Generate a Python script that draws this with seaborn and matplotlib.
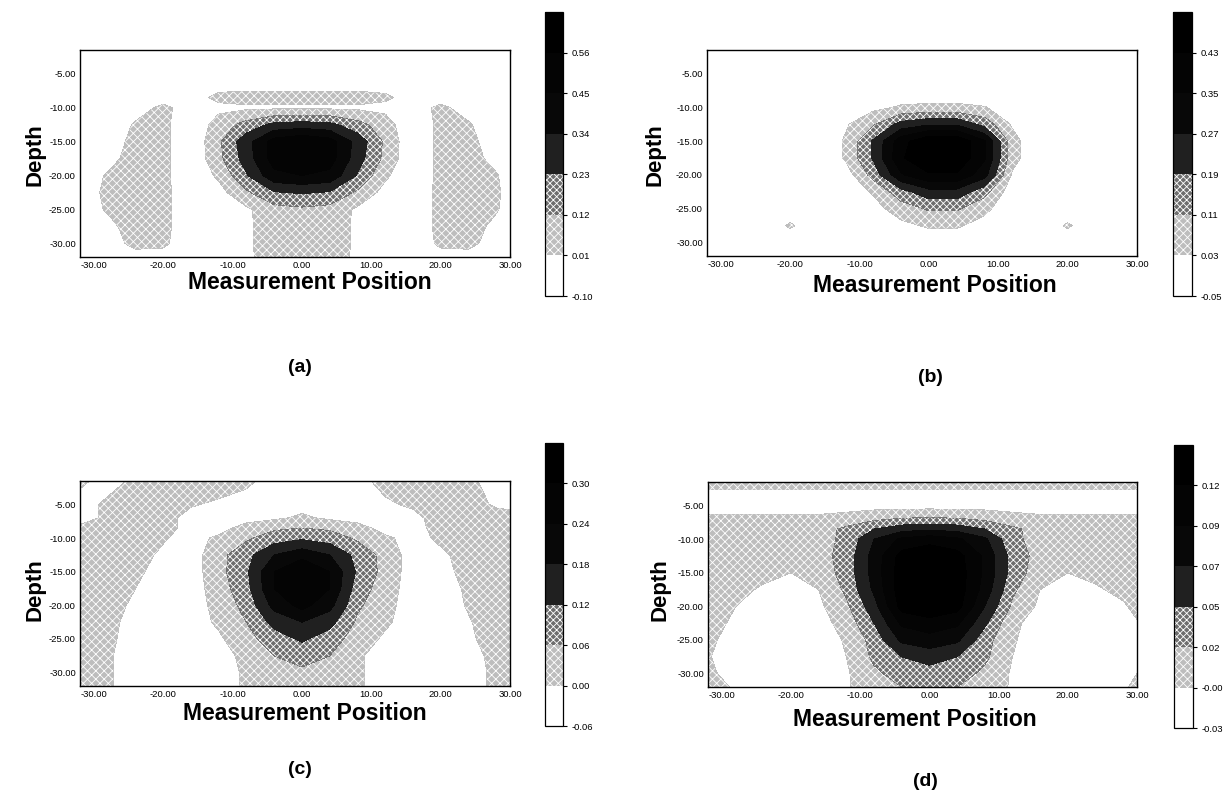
import matplotlib
matplotlib.use("Agg")
import matplotlib.pyplot as plt
import seaborn as sns
import numpy as np

# grid positions (measurement position, depth)
xs = [-32, -28, -24, -20, -16, -12, -8, -4, 0, 4, 8, 12, 16, 20, 24, 28, 30]
depths = [-1.5, -5, -7, -8.5, -10, -12.5, -15, -17.5, -20, -22.5, -25, -27.5, -30, -32]

# values, in hundredths
vals_a = [
    [-3, -3, -3, -3, -3, -3, -3, -3, -3, -3, -3, -3, -3, -3, -3, -3, -3],
    [-3, -3, -3, -3, -3, -3, -3, -3, -3, -3, -3, -3, -3, -3, -3, -3, -3],
    [-3, -3, -3, -3, -3, -2, -2, -2, -2, -2, -2, -2, -3, -3, -3, -3, -3],
    [-3, -3, -3, -3, -4, 4, 6, 6, 6, 6, 6, 3, -4, -3, -3, -3, -3],
    [-3, -3, -3, 3, -3, -2, -1, -1, -1, -1, -1, -2, -3, 3, -3, -3, -3],
    [-4, -5, 2, 4, -8, 6, 16, 26, 28, 26, 16, 6, -8, 4, 2, -5, -4],
    [-4, -6, 5, 4, -8, 10, 30, 50, 55, 50, 30, 10, -8, 4, 5, -6, -4],
    [-4, -3, 6, 4, -8, 9, 28, 50, 55, 50, 28, 9, -8, 4, 6, -3, -4],
    [-5, 2, 7, 4, -8, 3, 22, 42, 45, 42, 22, 3, -8, 4, 7, 2, -4],
    [-4, 3, 7, 4, -6, -3, 10, 22, 24, 22, 10, -3, -6, 4, 7, 3, -3],
    [-4, 2, 6, 4, -6, -5, -1, 8, 10, 8, -1, -5, -6, 4, 6, 2, -3],
    [-5, -2, 6, 4, -6, -5, -1, 7, 7, 7, -1, -5, -6, 4, 6, -2, -4],
    [-5, -4, 4, 3, -6, -5, -1, 7, 7, 7, -1, -5, -6, 3, 4, -4, -5],
    [-5, -5, -3, -3, -6, -5, -1, 6, 6, 6, -1, -5, -6, -3, -3, -5, -5],
]
vals_b = [
    [-2, -2, -2, -2, -2, -2, -2, -2, -2, -2, -2, -2, -2, -2, -2, -2, -2],
    [-2, -2, -2, -2, -2, -2, -2, -2, -2, -2, -2, -2, -2, -2, -2, -2, -2],
    [-2, -2, -2, -2, -2, -2, -2, -2, -2, -2, -2, -2, -2, -2, -2, -2, -2],
    [-2, -2, -2, -2, -2, -2, -1, 0, 0, 0, -1, -2, -2, -2, -2, -2, -2],
    [-2, -2, -2, -2, -2, -2, 1, 4, 5, 5, 3.5, -2, -2, -2, -2, -2, -2],
    [-2, -2, -2, -2, -2, 2, 10, 22, 26, 26, 16, 2, -2, -2, -2, -2, -2],
    [-2, -2, -2, -2, -4, 4, 20, 40, 50, 50, 36, 6, -4, -2, -2, -2, -2],
    [-2, -2, -2, -2, -4, 4, 20, 42, 50, 50, 36, 6, -4, -2, -2, -2, -2],
    [-2, -2, -2, -2, -4, -1, 14, 34, 42, 42, 30, 2, -4, -2, -2, -2, -2],
    [-2, -2, -2, -2, -3, -3, 4, 16, 24, 24, 14, -2, -3, -2, -2, -2, -2],
    [-2, -2, -2, -2, -2, -3, 0, 7, 12, 12, 5, -3, -2, -2, -2, -2, -2],
    [-2, -2, -2, 4, -2, -2, -2, 1, 4, 4, 0, -2, -2, 4, -2, -2, -2],
    [-2, -2, -2, -2, -2, -2, -2, -2, -2, -2, -2, -2, -2, -2, -2, -2, -2],
    [-2, -2, -2, -2, -2, -2, -2, -2, -2, -2, -2, -2, -2, -2, -2, -2, -2],
]
vals_c = [
    [1, -2, 1, 3, 3, 3, 1, -2, -2, -2, -2, 2, 3, 3, 1, -2, -2],
    [-2, 1, 3, 2, 0.5, -1, -2, -2, -2, -2, -2, -1, 1, 3, 3, -1, -2],
    [-2, 1, 2, 2, -2, -2, -2, -1, 1, -1, -2, -2, -2, 3, 3, 3, 3],
    [1, 3, 3, 2, -2, -2, 2, 5, 6, 5, 2, -2, -2, 2, 3, 3, 3],
    [3, 3, 3, 0.5, -2, 1, 5, 9, 11, 9, 5, 1, -2, 1, 3, 3, 3],
    [3, 3, 2, -1, -3, 4, 10, 18, 22, 18, 10, 4, -3, -1, 2, 3, 3],
    [3, 3, 1, -2, -3, 4, 11, 24, 30, 24, 11, 4, -3, -2, 2, 3, 3],
    [3, 3, 0, -2, -3, 3, 10, 24, 30, 24, 9, 3, -3, -3, 1, 3, 3],
    [3, 2, -1, -3, -3, 2, 8, 20, 26, 20, 7, 2, -3, -3, 0.5, 3, 3],
    [3, 1.5, -2, -3, -3, 1, 6, 14, 18, 14, 5, 1, -3, -3, -0.5, 3, 3],
    [3, 1, -2, -3, -3, -1, 4, 9, 13, 9, 3, -1, -3, -3, -1, 2.5, 3],
    [3, 0.5, -2, -3, -3, -3, 2, 6, 8, 6, 1, -3, -3, -3, -2, 1.5, 3],
    [3, 0.5, -2, -3, -3, -3, 1, 4, 5, 4, 1, -3, -3, -3, -2, 1, 3],
    [3, 0.5, -2, -3, -3, -3, 1, 3, 4, 3, 1, -3, -3, -3, -2, 1, 2],
]
vals_d = [
    [0, 0, 0, 0, 0, 0, 0, 0, 0, 0, 0, 0, 0, 0, 0, 0, 0],
    [-1.5, -1.5, -1.5, -1.5, -1.5, -1.5, -1.5, -1.5, -1.5, -1.5, -1.5, -1.5, -1.5, -1.5, -1.5, -1.5, -1.5],
    [0, 0, 0, 0, 0, 0.5, 1.5, 2.2, 2.4, 2.2, 1.5, 0.5, 0, 0, 0, 0, 0],
    [1, 1, 1, 1, 1, 2.5, 4.5, 6, 6.5, 6, 4.5, 2.5, 1, 1, 1, 1, 1],
    [1.2, 1.2, 1.2, 1.2, 1.2, 2.5, 7, 10, 11, 10, 7.5, 2.5, 1.2, 1.2, 1.2, 1.2, 1.2],
    [1, 1, 1, 1, 1, 3, 8, 13, 14, 13, 9, 3.5, 1, 1, 1, 1, 1],
    [1, 1, 0.5, -0.5, 0.5, 3, 8, 13.5, 14, 13.5, 9, 3.5, 0.5, -0.5, 0.5, 1, 1],
    [1, 0.5, -1, -1.5, -0.5, 2.5, 7.5, 13.5, 14, 13.5, 8.5, 2.5, -0.5, -1.5, -1, 0.5, 1],
    [0.8, -0.5, -2, -2, -1, 1.5, 6, 13, 14, 13, 7, 1.5, -1, -2, -2, -1, 0.5],
    [0.5, -1, -2, -2, -1.5, 0.5, 4.5, 10, 11, 10, 5, 0, -1.5, -2, -2, -1.5, -0.8],
    [0, -1.5, -2, -2, -1.5, -0.3, 3, 7.5, 8.5, 7.5, 3, -0.3, -1.5, -2, -2, -1.5, -1],
    [-0.3, -2, -2, -2, -2, -0.5, 2.5, 4.5, 5.5, 4.5, 2.5, -0.5, -2, -2, -2, -2, -1.5],
    [0, -1.5, -2, -2, -2, -0.8, 1.5, 3, 3.5, 3, 1.5, -0.8, -2, -2, -2, -1.5, -0.5],
    [0.5, -0.8, -2, -2, -2, -0.8, 1, 2, 2.5, 2, 1, -0.8, -2, -2, -2, -1, 0.3],
]

# colour-bar levels and their labels
levels_a = [-0.10, 0.01, 0.12, 0.23, 0.34, 0.45, 0.56, 0.67]
labels_a = ["-0.10", "0.01", "0.12", "0.23", "0.34", "0.45", "0.56"]
levels_b = [-0.05, 0.03, 0.11, 0.19, 0.27, 0.35, 0.43, 0.51]
labels_b = ["-0.05", "0.03", "0.11", "0.19", "0.27", "0.35", "0.43"]
levels_c = [-0.06, 0.00, 0.06, 0.12, 0.18, 0.24, 0.30, 0.36]
labels_c = ["-0.06", "0.00", "0.06", "0.12", "0.18", "0.24", "0.30"]
levels_d = [-0.03, -0.005, 0.02, 0.045, 0.07, 0.095, 0.12, 0.145]
labels_d = ["-0.03", "-0.00", "0.02", "0.05", "0.07", "0.09", "0.12"]

x_ticks = [-30, -20, -10, 0, 10, 20, 30]
y_ticks = [-5, -10, -15, -20, -25, -30]

sns.set_theme(style="white")
plt.rcParams["font.family"] = ["Liberation Sans", "DejaVu Sans"]
plt.rcParams["text.color"] = "black"
plt.rcParams["xtick.color"] = "black"
plt.rcParams["ytick.color"] = "black"
plt.rcParams["hatch.color"] = "black"
plt.rcParams["hatch.linewidth"] = 0.6

W, H = 1230, 806
fig = plt.figure(figsize=(W / 100, H / 100), dpi=100)
fig.patch.set_facecolor("white")

fill_colors = ["white", "#bdbdbd", "#6e6e6e", "#202020", "#080808", "#040404", "#000000"]
fill_hatch = ["", "xxxx", "xxxxx", "", "", "", ""]


def px_axes(l, t, r, b):
    return fig.add_axes([l / W, 1 - b / H, (r - l) / W, (b - t) / H])


def panel(vals, levels, labels, box, cbox, tag, pos):
    ax = px_axes(*box)
    z = np.array(vals) / 100.0
    cs = ax.contourf(xs, depths, z, levels=levels, colors=fill_colors, hatches=fill_hatch)
    ax.set_xlim(-32, 30)
    ax.set_ylim(-32, -1.5)
    ax.set_xticks(x_ticks)
    ax.set_xticklabels([f"{v:.2f}" for v in x_ticks])
    ax.set_yticks(y_ticks)
    ax.set_yticklabels([f"{v:.2f}" for v in y_ticks])
    ax.tick_params(labelsize=6.8, direction="in", length=3, width=0.8,
                   top=True, right=True, bottom=True, left=True, pad=3)
    for s in ax.spines.values():
        s.set_color("black")
        s.set_linewidth(1.0)
    cax = px_axes(*cbox)
    cb = fig.colorbar(cs, cax=cax)
    cb.set_ticks(levels[:-1])
    cb.set_ticklabels(labels)
    cb.ax.tick_params(labelsize=6.8, length=3, width=0.8, right=True, direction="out")
    cb.outline.set_linewidth(0.9)
    cb.outline.set_edgecolor("black")

    xl, yl, ptx, pty, dx, dy = pos
    fig.text(xl / W, 1 - yl / H, "Measurement Position", ha="center", va="center",
             fontsize=16.5, fontweight="heavy")
    fig.text(dx / W, 1 - dy / H, "Depth", ha="center", va="center", rotation=90,
             fontsize=16, fontweight="heavy")
    fig.text(ptx / W, 1 - pty / H, tag, ha="center", va="center",
             fontsize=14, fontweight="bold")


panel(vals_a, levels_a, labels_a, (80, 50, 510, 257), (545, 12, 563, 296), "(a)",
      (310, 283, 300, 368, 35, 155))
panel(vals_b, levels_b, labels_b, (707, 50, 1137, 256), (1173, 12, 1192, 296), "(b)",
      (935, 286, 930, 378, 655, 155))
panel(vals_c, levels_c, labels_c, (80, 481, 510, 686), (545, 443, 563, 726), "(c)",
      (305, 714, 300, 770, 35, 590))
panel(vals_d, levels_d, labels_d, (708, 482, 1137, 687), (1174, 445, 1193, 728), "(d)",
      (915, 720, 925, 782, 660, 590))

fig.savefig("out.png", dpi=100, facecolor="white")
